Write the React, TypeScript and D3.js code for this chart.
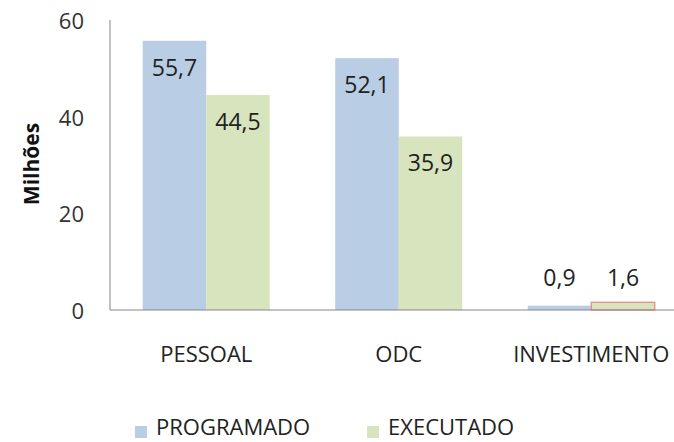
import React from "react";
import * as d3 from "d3";

const categories = ["PESSOAL", "ODC", "INVESTIMENTO"];
const programado = [55.7, 52.1, 0.9];
const executado = [44.5, 35.9, 1.6];
const seriesNames = ["PROGRAMADO", "EXECUTADO"];
const yTicks = [0, 20, 40, 60];
const labelStrings = [["55,7", "52,1", "0,9"], ["44,5", "35,9", "1,6"]];

const W = 674;
const H = 442;
const FONT = "'Open Sans', sans-serif";
const colors = ["#B9CDE5", "#D7E4BD"];

export default function App() {
  const x = d3.scaleBand<string>().domain(categories).range([110, 687.5]).paddingInner(0.34).paddingOuter(0.17);
  const xs = d3.scaleBand<string>().domain(seriesNames).range([0, x.bandwidth()]);
  const y = d3.scaleLinear().domain([0, 60]).range([310, 20]);
  const series = [programado, executado];

  return (
    <svg width={W} height={H} style={{ position: "absolute", left: 0, top: 0, background: "#fff" }} fontFamily={FONT}>
      {series.map((vals, si) =>
        vals.map((v, ci) => {
          const bx = (x(categories[ci]) as number) + (xs(seriesNames[si]) as number);
          const top = y(v);
          const h = y(0) - top;
          const redEdge = si === 1 && ci === 2;
          return (
            <rect
              key={`b${si}-${ci}`}
              x={bx}
              y={top}
              width={xs.bandwidth()}
              height={h}
              fill={colors[si]}
              stroke={redEdge ? "#F28080" : "none"}
              strokeWidth={redEdge ? 1.2 : 0}
            />
          );
        })
      )}
      <line x1={110} x2={110} y1={y(60)} y2={y(0)} stroke="#868686" strokeWidth={1} />
      <line x1={110} x2={W} y1={y(0)} y2={y(0)} stroke="#868686" strokeWidth={1} />
      {yTicks.map((t) => (
        <text key={`t${t}`} x={84} y={y(t)} textAnchor="end" dominantBaseline="central" fontSize={22} fill="#333">
          {t}
        </text>
      ))}
      <text
        transform={`translate(31,164) rotate(-90)`}
        textAnchor="middle"
        dominantBaseline="central"
        fontSize={21}
        fontWeight="bold"
        fill="#111"
      >
        Milhões
      </text>
      {categories.map((c) => (
        <text key={c} x={(x(c) as number) + x.bandwidth() / 2} y={362} textAnchor="middle" fontSize={22} fill="#222">
          {c}
        </text>
      ))}
      {series.map((vals, si) =>
        vals.map((v, ci) => {
          const cx = (x(categories[ci]) as number) + (xs(seriesNames[si]) as number) + xs.bandwidth() / 2;
          const small = v < 5;
          const ly = small ? y(0) - 24 : y(v) + 35;
          return (
            <text key={`l${si}-${ci}`} x={cx} y={ly} textAnchor="middle" fontSize={23} fill="#222">
              {labelStrings[si][ci]}
            </text>
          );
        })
      )}
      {seriesNames.map((s, i) => {
        const lx = i === 0 ? 135 : 367;
        return (
          <g key={s}>
            <rect x={lx} y={426} width={12} height={12} fill={colors[i]} />
            <text x={lx + 21} y={435} fontSize={22} fill="#222">
              {s}
            </text>
          </g>
        );
      })}
    </svg>
  );
}
